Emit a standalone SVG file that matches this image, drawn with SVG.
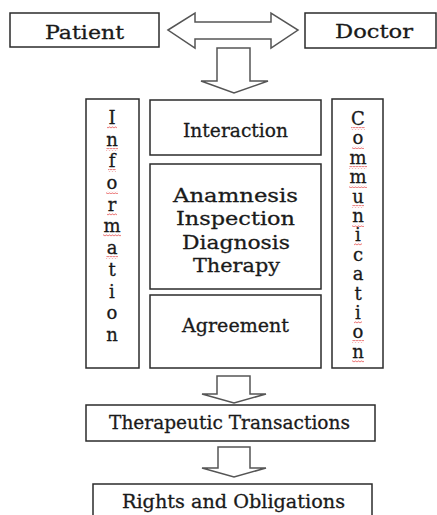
<svg xmlns="http://www.w3.org/2000/svg" width="437" height="515" viewBox="0 0 437 515">
<style>
.box{fill:#fff;stroke:#2b2b2b;stroke-width:1.5}
.arr{fill:#fff;stroke:#555;stroke-width:1.5;stroke-linejoin:miter}
.t{font-family:"DejaVu Serif","Liberation Serif",serif;font-size:19px;fill:#1a1a1a;stroke:#1a1a1a;stroke-width:0.3}
.v{font-family:"DejaVu Serif","Liberation Serif",serif;font-size:18px;fill:#1a1a1a;stroke:#1a1a1a;stroke-width:0.3;text-anchor:middle}
.sq{fill:url(#wave)}
</style>
<defs>
<pattern id="wave" width="3" height="3" patternUnits="userSpaceOnUse">
<path d="M0,2.3 L1.5,0.7 L3,2.3" fill="none" stroke="#e23b3b" stroke-width="0.8"/>
</pattern>
</defs>
<rect width="437" height="515" fill="#fff"/>
<g id="connectors">
<polygon class="arr" points="168,30 195,13 195,22 271,22 271,13 298,30 271,48 271,39 195,39 195,48"/>
<polygon class="arr" points="217,48 250,48 250,81 268,81 234,93 201,81 217,81"/>
<polygon class="arr" points="217,376 250,376 250,394 266,394 234,403 202,394 217,394"/>
<polygon class="arr" points="218,447 250,447 250,468 266,468 234,477 202,468 218,468"/>
</g>
<g id="patient">
<rect class="box" x="10" y="13" width="149" height="34"/>
<text class="t" x="45" y="39" textLength="79" lengthAdjust="spacingAndGlyphs">Patient</text>
</g>
<g id="doctor">
<rect class="box" x="305" y="13" width="131" height="35"/>
<text class="t" x="335" y="38" textLength="78" lengthAdjust="spacingAndGlyphs">Doctor</text>
</g>
<g id="information">
<rect class="box" x="86" y="99" width="53" height="269"/>
<text class="v" x="112" y="124">I</text>
<text class="v" x="112" y="146">n</text>
<text class="v" x="112" y="167">f</text>
<text class="v" x="112" y="189">o</text>
<text class="v" x="112" y="211">r</text>
<text class="v" x="112" y="232">m</text>
<text class="v" x="112" y="254">a</text>
<text class="v" x="112" y="276">t</text>
<text class="v" x="112" y="298">i</text>
<text class="v" x="112" y="319">o</text>
<text class="v" x="112" y="341">n</text>
<g id="information-marks">
<rect class="sq" x="107" y="126" width="10" height="3"/>
<rect class="sq" x="106" y="148" width="12" height="3"/>
<rect class="sq" x="108" y="169" width="8" height="3"/>
<rect class="sq" x="106" y="191" width="12" height="3"/>
<rect class="sq" x="107" y="213" width="10" height="3"/>
<rect class="sq" x="103" y="234" width="18" height="3"/>
<rect class="sq" x="106" y="256" width="12" height="3"/>
</g>
</g>
<g id="interaction">
<rect class="box" x="150" y="100" width="171" height="55"/>
<text class="t" x="183" y="137" textLength="105" lengthAdjust="spacingAndGlyphs">Interaction</text>
</g>
<g id="procedures">
<rect class="box" x="150" y="164" width="171" height="125"/>
<text class="t" x="173" y="202" textLength="125" lengthAdjust="spacingAndGlyphs">Anamnesis</text>
<text class="t" x="176" y="225" textLength="119" lengthAdjust="spacingAndGlyphs">Inspection</text>
<text class="t" x="182" y="249" textLength="108" lengthAdjust="spacingAndGlyphs">Diagnosis</text>
<text class="t" x="193" y="272" textLength="87" lengthAdjust="spacingAndGlyphs">Therapy</text>
</g>
<g id="agreement">
<rect class="box" x="150" y="295" width="171" height="73"/>
<text class="t" x="182" y="332" textLength="107" lengthAdjust="spacingAndGlyphs">Agreement</text>
</g>
<g id="communication">
<rect class="box" x="332" y="99" width="51" height="269"/>
<text class="v" x="358" y="125">C</text>
<text class="v" x="358" y="144">o</text>
<text class="v" x="358" y="164">m</text>
<text class="v" x="358" y="183">m</text>
<text class="v" x="358" y="203">u</text>
<text class="v" x="358" y="222">n</text>
<text class="v" x="358" y="241">i</text>
<text class="v" x="358" y="261">c</text>
<text class="v" x="358" y="280">a</text>
<text class="v" x="358" y="300">t</text>
<text class="v" x="358" y="319">i</text>
<text class="v" x="358" y="338">o</text>
<text class="v" x="358" y="358">n</text>
<g id="communication-marks">
<rect class="sq" x="351" y="127" width="14" height="3"/>
<rect class="sq" x="352" y="146" width="12" height="3"/>
<rect class="sq" x="349" y="166" width="18" height="3"/>
<rect class="sq" x="349" y="185" width="18" height="3"/>
<rect class="sq" x="352" y="205" width="12" height="3"/>
<rect class="sq" x="352" y="224" width="12" height="3"/>
<rect class="sq" x="354" y="243" width="8" height="3"/>
<rect class="sq" x="354" y="321" width="8" height="3"/>
<rect class="sq" x="352" y="340" width="12" height="3"/>
<rect class="sq" x="352" y="360" width="12" height="3"/>
</g>
</g>
<g id="therapeutic">
<rect class="box" x="86" y="405" width="289" height="36"/>
<text class="t" x="109" y="429" textLength="241" lengthAdjust="spacingAndGlyphs">Therapeutic Transactions</text>
</g>
<g id="rights">
<rect class="box" x="93" y="484" width="279" height="40"/>
<text class="t" x="122" y="508" textLength="223" lengthAdjust="spacingAndGlyphs">Rights and Obligations</text>
</g>
</svg>
